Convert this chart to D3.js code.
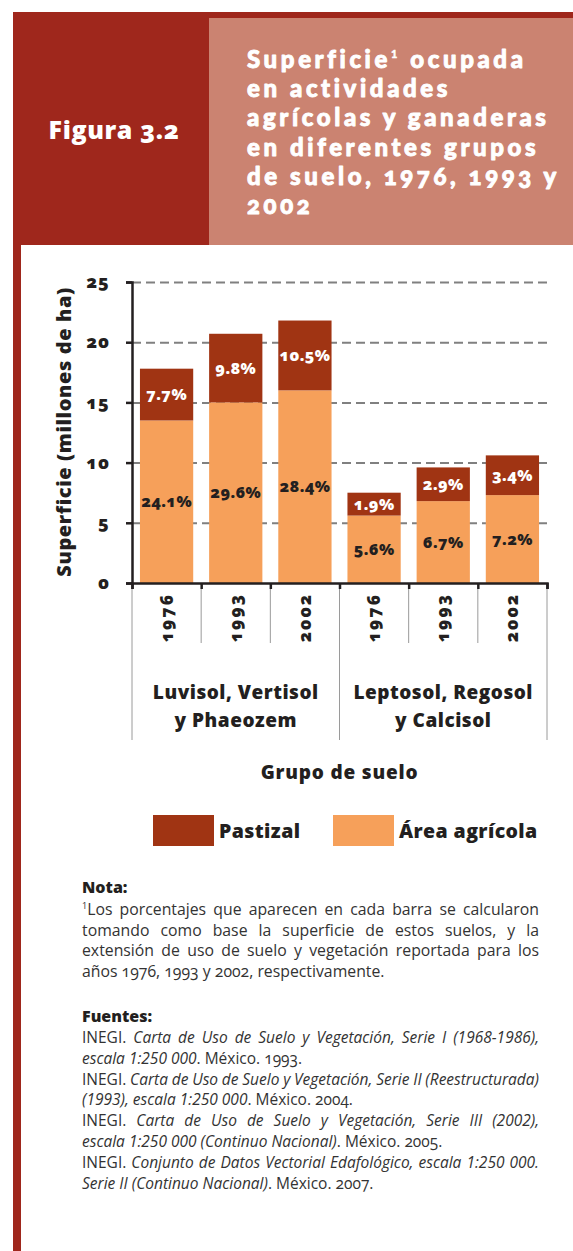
<!DOCTYPE html>
<html>
<head>
<meta charset="utf-8">
<script src="https://cdn.jsdelivr.net/npm/d3@7"></script>
<style>
body { margin: 0; background: #fff; }
svg { display: block; font-family: "Open Sans", sans-serif; font-variant-numeric: oldstyle-nums; }
.lining { font-variant-numeric: lining-nums; }
</style>
</head>
<body>
<svg width="573" height="1251"></svg>
<script>
// data (millones de ha)
var years = ["1976", "1993", "2002", "1976", "1993", "2002"];
var groupLines = [["Luvisol, Vertisol", "y Phaeozem"], ["Leptosol, Regosol", "y Calcisol"]];
var agricola = [13.5, 15.0, 16.0, 5.6, 6.8, 7.3];
var pastizal = [4.3, 5.7, 5.8, 1.9, 2.8, 3.3];
var agricolaPct = ["24.1%", "29.6%", "28.4%", "5.6%", "6.7%", "7.2%"];
var pastizalPct = ["7.7%", "9.8%", "10.5%", "1.9%", "2.9%", "3.4%"];
var yTicks = [0, 5, 10, 15, 20, 25];
var seriesNames = ["Pastizal", "Área agrícola"];

var titleLines = [["Superficie", "1", " ocupada"], ["en actividades"], ["agrícolas y ganaderas"],
                  ["en diferentes grupos"], ["de suelo, 1976, 1993 y"], ["2002"]];
var noteLines = ["Los porcentajes que aparecen en cada barra se calcularon",
                 "tomando como base la superficie de estos suelos, y la",
                 "extensión de uso de suelo y vegetación reportada para los",
                 "años 1976, 1993 y 2002, respectivamente."];
var sourceLines = [
  [["INEGI. ", 0], ["Carta de Uso de Suelo y Vegetación, Serie I (1968-1986),", 1]],
  [["escala 1:250 000", 1], [". México. 1993.", 0]],
  [["INEGI. ", 0], ["Carta de Uso de Suelo y Vegetación, Serie II (Reestructurada)", 1]],
  [["(1993), escala 1:250 000", 1], [". México. 2004.", 0]],
  [["INEGI. ", 0], ["Carta de Uso de Suelo y Vegetación, Serie III (2002),", 1]],
  [["escala 1:250 000 (Continuo Nacional)", 1], [". México. 2005.", 0]],
  [["INEGI. ", 0], ["Conjunto de Datos Vectorial Edafológico, escala 1:250 000.", 1]],
  [["Serie II (Continuo Nacional)", 1], [". México. 2007.", 0]]
];

var ink = "#231f20";
var darkBar = "#a03413";
var orangeBar = "#f6a05a";
var headerRed = "#9f271c";
var salmon = "#cb8371";

var svg = d3.select("svg");

// header block
svg.append("rect").attr("x", 13).attr("y", 12).attr("width", 560).attr("height", 233).attr("fill", headerRed);
svg.append("rect").attr("x", 209).attr("y", 18).attr("width", 364).attr("height", 227).attr("fill", salmon);
svg.append("rect").attr("x", 13).attr("y", 245).attr("width", 8).attr("height", 1006).attr("fill", headerRed);

svg.append("text")
.text("Figura 3.2")
.attr("x", 114).attr("y", 139)
.attr("text-anchor", "middle")
.attr("fill", "#fff")
.attr("font-weight", 800)
.attr("font-size", "25px")
.attr("letter-spacing", "0.6px");

// title, Lato keeps the line boxes inside the tight leading; a thin stroke makes it heavier
var title = svg.append("g")
.attr("fill", "#fff")
.attr("stroke", "#fff")
.attr("stroke-width", 0.9)
.attr("stroke-linejoin", "round")
.attr("font-family", "Lato, sans-serif")
.attr("font-weight", 900)
.attr("font-size", "24px");

var titleText = titleLines.map(function (parts, i) {
  var t = title.append("text").attr("x", 247).attr("y", 68 + i * 29.2);
  parts.forEach(function (p, k) {
    var ts = t.append("tspan").text(p);
    if (k === 1) ts.attr("font-size", "11px").attr("dy", "-10").attr("class", "lining").attr("stroke-width", 0.4);
    if (k === 2) ts.attr("dy", "10");
  });
  return t;
});
// spread letters so the longest line reaches the same width as in the figure
var longest = titleText[2].node();
var spread = (299 - longest.getComputedTextLength()) / (titleLines[2][0].length - 1);
title.attr("letter-spacing", spread + "px");

// scales
var x = d3.scaleBand().domain(d3.range(years.length)).range([132, 547]).paddingInner(0.23).paddingOuter(0.115);
var xEdge = d3.scaleLinear().domain([0, years.length]).range([132, 547]);
var y = d3.scaleLinear().domain([0, 25]).range([583, 282]);

// dashed grid
svg.append("g")
.attr("class", "grid")
.attr("transform", "translate(132,0)")
.call(d3.axisRight(y).tickValues(yTicks.slice(1)).tickFormat("").tickSize(415))
.call(function (g) {
  g.select(".domain").remove();
  g.selectAll("line").attr("stroke", "#808080").attr("stroke-width", 2).attr("stroke-dasharray", "9,5");
});

// stacked bars
var table = years.map(function (yr, i) { return {i: i, agricola: agricola[i], pastizal: pastizal[i]}; });
var stack = d3.stack().keys(["agricola", "pastizal"])(table);
var fills = {agricola: orangeBar, pastizal: darkBar};
var pcts = {agricola: agricolaPct, pastizal: pastizalPct};
var pctColor = {agricola: ink, pastizal: "#fff"};

stack.forEach(function (layer) {
  var g = svg.append("g");
  g.selectAll("rect").data(layer).join("rect")
  .attr("x", function (d) { return x(d.data.i); })
  .attr("y", function (d) { return y(d[1]); })
  .attr("width", x.bandwidth())
  .attr("height", function (d) { return y(d[0]) - y(d[1]); })
  .attr("fill", fills[layer.key]);

  g.selectAll("text").data(layer).join("text")
  .text(function (d) { return pcts[layer.key][d.data.i]; })
  .attr("x", function (d) { return x(d.data.i) + x.bandwidth() / 2; })
  .attr("y", function (d) { return (y(d[0]) + y(d[1])) / 2; })
  .attr("dy", "0.35em")
  .attr("text-anchor", "middle")
  .attr("fill", pctColor[layer.key])
  .attr("font-weight", 800)
  .attr("font-size", "16px")
  .attr("letter-spacing", "0.4px");
});

// y axis
svg.append("g")
.attr("transform", "translate(132,0)")
.call(d3.axisLeft(y).tickValues(yTicks).tickSize(6).tickPadding(16))
.call(function (g) {
  g.select(".domain").attr("stroke", ink).attr("stroke-width", 2.5);
  g.selectAll("line").attr("stroke", ink).attr("stroke-width", 2.5);
  g.selectAll("text").attr("fill", ink).attr("font-family", "Open Sans").attr("font-weight", 800)
   .attr("font-size", "18px").attr("letter-spacing", "1px");
});

svg.append("text")
.text("Superficie (millones de ha)")
.attr("transform", "translate(71,432) rotate(-90)")
.attr("text-anchor", "middle")
.attr("fill", ink)
.attr("font-weight", 800)
.attr("font-size", "20px")
.attr("letter-spacing", "0.6px");

// x axis, separators and labels
svg.append("g")
.attr("transform", "translate(0,583)")
.call(d3.axisBottom(xEdge).tickValues(d3.range(years.length + 1)).tickFormat("").tickSize(6))
.call(function (g) {
  g.select(".domain").attr("stroke", ink).attr("stroke-width", 2.5);
  g.selectAll("line").attr("stroke", ink).attr("stroke-width", 2.5);
});

svg.append("g").selectAll("line").data(d3.range(years.length + 1)).join("line")
.attr("x1", function (d) { return xEdge(d); })
.attr("x2", function (d) { return xEdge(d); })
.attr("y1", 589)
.attr("y2", function (d) { return d % 3 === 0 ? 740 : 643; })
.attr("stroke", "#9a9a9a")
.attr("stroke-width", 1);

svg.append("g").selectAll("text").data(years).join("text")
.text(function (d) { return d; })
.attr("transform", function (d, i) { return "translate(" + (x(i) + x.bandwidth() / 2) + ",593) rotate(-90)"; })
.attr("dy", "0.35em")
.attr("text-anchor", "end")
.attr("fill", ink)
.attr("font-weight", 800)
.attr("font-size", "17px")
.attr("letter-spacing", "2px");

groupLines.forEach(function (lines, gi) {
  var cx = (xEdge(gi * 3) + xEdge(gi * 3 + 3)) / 2;
  lines.forEach(function (t, li) {
    svg.append("text")
    .text(t)
    .attr("x", cx)
    .attr("y", 699 + li * 28)
    .attr("text-anchor", "middle")
    .attr("fill", ink)
    .attr("font-weight", 800)
    .attr("font-size", "19px")
    .attr("letter-spacing", "0.5px");
  });
});

svg.append("text")
.text("Grupo de suelo")
.attr("x", (xEdge(0) + xEdge(years.length)) / 2)
.attr("y", 779)
.attr("text-anchor", "middle")
.attr("fill", ink)
.attr("font-weight", 800)
.attr("font-size", "19px")
.attr("letter-spacing", "0.8px");

// legend
var legendX = [153, 333];
var legendFill = [darkBar, orangeBar];
seriesNames.forEach(function (name, i) {
  svg.append("rect")
  .attr("x", legendX[i]).attr("y", 815)
  .attr("width", 61).attr("height", 31)
  .attr("fill", legendFill[i]);
  svg.append("text")
  .text(name)
  .attr("x", legendX[i] + 66)
  .attr("y", 838)
  .attr("fill", ink)
  .attr("font-weight", 800)
  .attr("font-size", "19.5px")
  .attr("letter-spacing", "0.4px");
});

// notes
function justify(sel, width) {
  var n = sel.node();
  var len = n.getComputedTextLength();
  var spaces = (n.textContent.match(/ /g) || []).length;
  if (spaces) sel.attr("word-spacing", ((width - len) / spaces) + "px");
}

var textLeft = 82, textWidth = 457;

svg.append("text")
.text("Nota:")
.attr("x", textLeft).attr("y", 893)
.attr("fill", ink).attr("font-weight", 800).attr("font-size", "16px");

noteLines.forEach(function (t, i) {
  var tx = svg.append("text")
  .attr("x", textLeft).attr("y", 915 + i * 20.7)
  .attr("fill", "#333").attr("font-size", "15.8px");
  if (i === 0) tx.append("tspan").text("1").attr("font-size", "9px").attr("baseline-shift", "6px").attr("class", "lining");
  tx.append("tspan").text(t);
  if (i < noteLines.length - 1) justify(tx, textWidth);
});

svg.append("text")
.text("Fuentes:")
.attr("x", textLeft).attr("y", 1022)
.attr("fill", ink).attr("font-weight", 800).attr("font-size", "16px");

sourceLines.forEach(function (segs, i) {
  var tx = svg.append("text")
  .attr("x", textLeft).attr("y", 1043 + i * 20.8)
  .attr("fill", "#333").attr("font-size", "15.5px");
  segs.forEach(function (s) {
    tx.append("tspan").text(s[0])
    .attr("font-style", s[1] ? "italic" : "normal")
    .attr("class", s[1] ? "lining" : null);
  });
  if (i % 2 === 0) justify(tx, textWidth);
});
</script>
</body>
</html>
